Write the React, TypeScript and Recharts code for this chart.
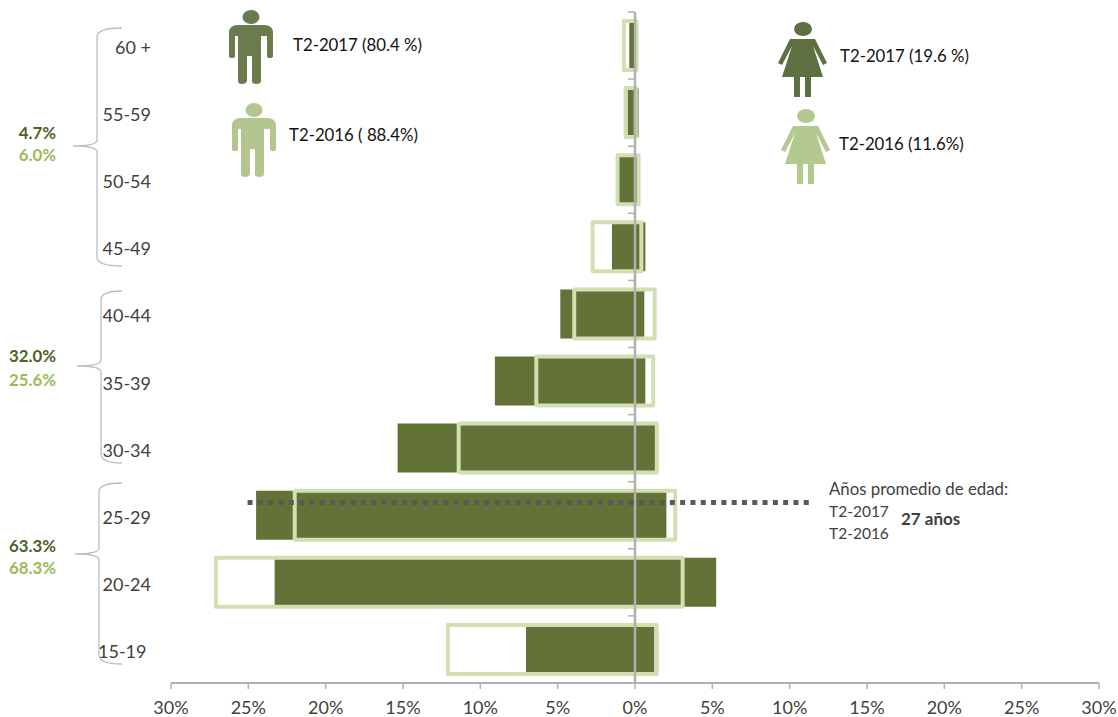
import { BarChart, Bar, XAxis, YAxis, ReferenceLine } from 'recharts';

const ageGroups = ['60 +', '55-59', '50-54', '45-49', '40-44', '35-39', '30-34', '25-29', '20-24', '15-19'];
const men2017 = [-0.37, -0.48, -1.04, -1.49, -4.83, -9.06, -15.35, -24.5, -23.3, -7.05];
const women2017 = [0.1, 0.23, 0.15, 0.67, 0.6, 0.67, 1.3, 2.03, 5.25, 1.25];
const men2016 = [-0.72, -0.61, -1.13, -2.74, -3.93, -6.38, -11.4, -22.0, -27.1, -12.1];
const women2016 = [0.1, 0.05, 0.23, 0.41, 1.27, 1.18, 1.41, 2.6, 3.08, 1.41];
const xTicks = [-30, -25, -20, -15, -10, -5, 0, 5, 10, 15, 20, 25, 30];
const rowBoundaries = [0, 1, 2, 3, 4, 5, 6, 7, 8, 9, 10];
const meanAgeRow = 7.31;
const meanAgeSpan = [-25.05, 11.3];

// the row axis runs 0..9 (data index) top to bottom, so 10 rows are 0.9 apart
const rowScale = (ageGroups.length - 1) / ageGroups.length;

const chartData = ageGroups.map((age, i) => ({
  age,
  range2017: [men2017[i], women2017[i]],
  range2016: [men2016[i], women2016[i]],
}));

const DARK = '#637338';
const PALE = '#d1dfb1';
const AXIS = '#b0b0b0';
const TEXT = '#404040';
const FONT = 'Lato, sans-serif';

const AgeTick = ({ x, y, payload }: any) => (
  <text
    x={x + (payload.value === '15-19' ? 1.5 : 6)}
    y={y + 8.5}
    textAnchor="end"
    fontFamily={FONT}
    fontSize={18}
    fill={TEXT}
  >
    {payload.value}
  </text>
);

const manPath =
  'M-13 -2 Q-22 -2 -22 6 L-22 29 Q-22 31 -19 31 Q-16 31 -16 29 L-16 9 L-13 9 L-13 54 Q-13 57 -9 57 Q-5 57 -4 54 L-4 29 L1 29 L1 54 Q1 57 5 57 Q10 57 10 54 L10 9 L16 9 L16 29 Q16 31 19 31 Q22 31 22 29 L22 6 Q22 -2 13 -2 Z';
const womanPath =
  'M-13 0 L12 0 L24 24 L20 26 L10 7 L20 38 L-21 38 L-11 7 L-21 26 L-25 24 Z M-9 38 L-3 38 L-3 58 L-9 58 Z M2 38 L8 38 L8 58 L2 58 Z';

const Man = ({ x, y, color }: { x: number; y: number; color: string }) => (
  <g transform={`translate(${x} ${y})`} fill={color}>
    <ellipse cx={0} cy={-10} rx={8.5} ry={7} />
    <path d={manPath} />
  </g>
);

const Woman = ({ x, y, color }: { x: number; y: number; color: string }) => (
  <g transform={`translate(${x} ${y})`} fill={color}>
    <ellipse cx={0} cy={-10} rx={9} ry={7} />
    <path d={womanPath} />
  </g>
);

const Brace = ({ top, bottom, tip, spine }: { top: number; bottom: number; tip: number; spine: number }) => {
  const mid = tip;
  const d = `M122 ${top} Q${spine} ${top} ${spine} ${top + 9} L${spine} ${mid - 6} Q${spine} ${mid} ${spine - 24} ${mid} Q${spine} ${mid} ${spine} ${mid + 6} L${spine} ${bottom - 9} Q${spine} ${bottom} 122 ${bottom}`;
  return <path d={d} fill="none" stroke="#bdbdbd" strokeWidth={1.3} />;
};

const Label = ({ x, y, children, fill = '#111', bold, anchor, size = 16.8 }: any) => (
  <text x={x} y={y} fontFamily={FONT} fontSize={size} fill={fill} fontWeight={bold ? 700 : 400} textAnchor={anchor}>
    {children}
  </text>
);

export default function App() {
  return (
    <div style={{ position: 'absolute', left: 0, top: 0, width: 1118, height: 717, background: '#fff' }}>
      <BarChart
        width={1118}
        height={717}
        data={chartData}
        layout="vertical"
        margin={{ top: 12, right: 19, bottom: 0, left: 0 }}
        barSize={49}
        barGap={-49}
      >
        <XAxis
          type="number"
          domain={[-30, 30]}
          ticks={xTicks}
          interval={0}
          height={34}
          tickSize={6}
          tickMargin={12}
          tickFormatter={(v) => `${Math.abs(v)}%`}
          tick={{ fontFamily: FONT, fontSize: 18, fill: TEXT }}
          stroke={AXIS}
          axisLine={{ stroke: AXIS, strokeWidth: 2 }}
          tickLine={{ stroke: AXIS, strokeWidth: 1.5 }}
        />
        <YAxis
          yAxisId="age"
          type="category"
          dataKey="age"
          width={171}
          axisLine={false}
          tickLine={false}
          tickMargin={20}
          interval={0}
          tick={<AgeTick />}
        />
        <YAxis yAxisId="row" type="number" domain={[0, 9]} hide />
        <Bar yAxisId="age" dataKey="range2017" fill={DARK} isAnimationActive={false} />
        <Bar
          yAxisId="age"
          dataKey="range2016"
          fill="none"
          stroke={PALE}
          strokeWidth={4}
          strokeLinejoin="round"
          isAnimationActive={false}
        />
        <ReferenceLine yAxisId="age" x={0} stroke={AXIS} strokeWidth={2.5} />
        {rowBoundaries.map((r) => (
          <ReferenceLine
            key={r}
            yAxisId="row"
            segment={[{ x: -0.45, y: r * rowScale }, { x: 0, y: r * rowScale }]}
            stroke={AXIS}
            strokeWidth={1.5}
          />
        ))}
        <ReferenceLine
          yAxisId="row"
          segment={[
            { x: meanAgeSpan[0], y: meanAgeRow * rowScale },
            { x: meanAgeSpan[1], y: meanAgeRow * rowScale },
          ]}
          stroke="#595959"
          strokeWidth={5}
          strokeDasharray="5 5.3"
        />
      </BarChart>
      <svg width={1118} height={717} style={{ position: 'absolute', left: 0, top: 0, pointerEvents: 'none' }}>
        <Brace top={28} bottom={266} tip={146} spine={97} />
        <Brace top={291} bottom={463} tip={366} spine={101} />
        <Brace top={483} bottom={664} tip={554} spine={99} />

        <Label x={56} y={139} fill="#4f6228" bold anchor="end">4.7%</Label>
        <Label x={56} y={161} fill="#9bbb59" bold anchor="end">6.0%</Label>
        <Label x={56} y={362} fill="#4f6228" bold anchor="end">32.0%</Label>
        <Label x={56} y={386} fill="#9bbb59" bold anchor="end">25.6%</Label>
        <Label x={56} y={552} fill="#4f6228" bold anchor="end">63.3%</Label>
        <Label x={56} y={574} fill="#9bbb59" bold anchor="end">68.3%</Label>

        <Man x={251} y={27} color="#6a7b4e" />
        <Man x={254} y={120} color="#b3c68f" />
        <Woman x={803} y={39} color="#5f7040" />
        <Woman x={806} y={126} color="#b3c98d" />

        <Label x={293} y={51}>T2-2017 (80.4 %)</Label>
        <Label x={289} y={141}>T2-2016 ( 88.4%)</Label>
        <Label x={840} y={62}>T2-2017 (19.6 %)</Label>
        <Label x={839} y={150}>T2-2016 (11.6%)</Label>

        <Label x={829} y={495} fill={TEXT}>Años promedio de edad:</Label>
        <Label x={829} y={517} fill={TEXT} size={15.5}>T2-2017</Label>
        <Label x={829} y={539} fill={TEXT} size={15.5}>T2-2016</Label>
        <Label x={901} y={525} fill={TEXT} bold size={17}>27 años</Label>
      </svg>
    </div>
  );
}
